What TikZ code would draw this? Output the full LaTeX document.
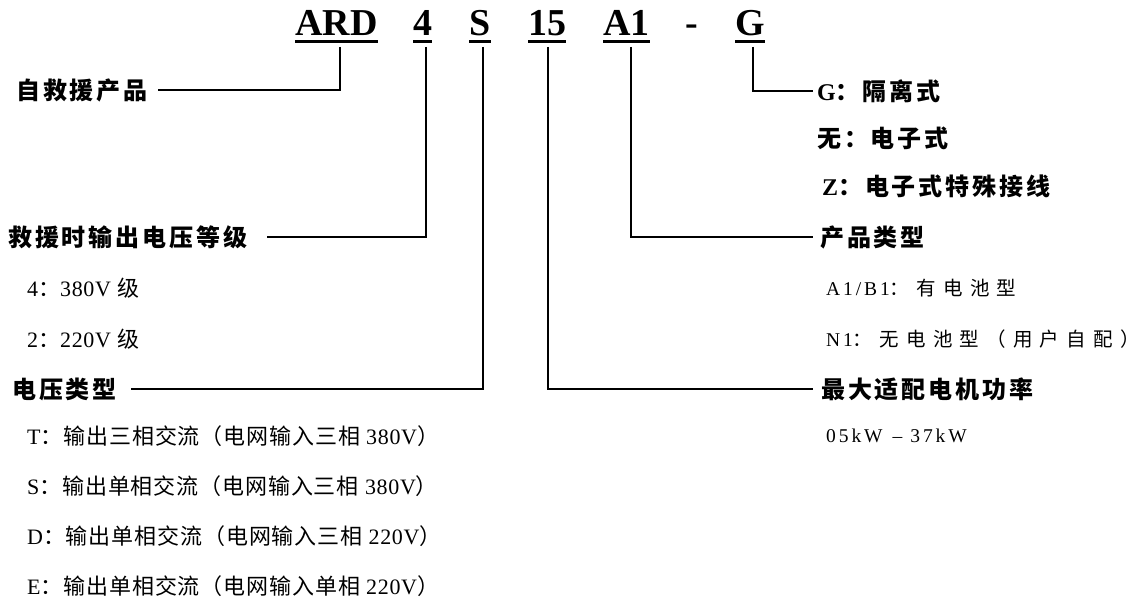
\documentclass[tikz,border=0pt]{standalone}
\usepackage{fontspec}
\setmainfont{Liberation Serif}
\newfontfamily\cjkhd{Noto Sans CJK SC}[LetterSpace=12]
\newfontfamily\cjklt{Noto Sans CJK SC}[LetterSpace=4]
\newfontfamily\cjkrt{Noto Sans CJK SC}[LetterSpace=37]
\newfontfamily\lathd{Liberation Serif}[LetterSpace=4]
\newfontfamily\latlt{Liberation Serif}[LetterSpace=3]
\newfontfamily\latrt{Liberation Serif}[LetterSpace=15]
\newcommand\HLat[1]{{\lathd #1}}
\newcommand\LLat[1]{{\latlt #1}}
\newcommand\RLat[1]{{\latrt #1}}
\usetikzlibrary{calc}
\tikzset{
  codebox/.style={anchor=base west, inner sep=0pt, font=\fontsize{38}{38}\selectfont\bfseries},
  hd/.style={anchor=west, inner sep=0pt, font=\fontsize{24}{24}\selectfont\cjkhd\bfseries},
  lt/.style={anchor=west, inner sep=0pt, font=\fontsize{22}{22}\selectfont\cjklt},
  rt/.style={anchor=west, inner sep=0pt, font=\fontsize{19.5}{19.5}\selectfont\cjkrt},
  ul/.style={line width=3.3pt},
  conn/.style={line width=2pt},
}
\begin{document}
\begin{tikzpicture}[x=1pt,y=-1pt]
\fill[white] (0,0) rectangle (1145,601);
\useasboundingbox (0,0) rectangle (1145,601);
% code
\node[codebox] (ard) at (295,36) {ARD};
\node[codebox] (n4) at (413,36) {4};
\node[codebox] (ns) at (469,36) {S};
\node[codebox] (n15) at (528,36) {15};
\node[codebox] (na1) at (603,36) {A1};
\node[codebox] (dash) at (685,36) {-};
\node[codebox] (ng) at (735,36) {G};
\foreach \n in {ard,n4,ns,n15,na1,ng}
  \draw[ul] ($(\n.base west)+(0,5.5)$) -- ($(\n.base east)+(0,5.5)$);
% connector tops
\coordinate (cARD) at (340,47);
\coordinate (c4) at (426,47);
\coordinate (cS) at (482.5,47);
\coordinate (c15) at (548,47);
\coordinate (cA1) at (631,47);
\coordinate (cG) at (753,47);
% left labels
\node[hd] (lard) at (16,90) {自救援产品};
\node[hd] (lvolt) at (8,237) {救援时输出电压等级};
\node[lt] (l4) at (27,288) {\LLat{4}：\LLat{380V }级};
\node[lt] (l2) at (27,339) {\LLat{2}：\LLat{220V }级};
\node[hd] (ltype) at (12,389) {电压类型};
\node[lt] (lT) at (27,436) {\LLat{T}：输出三相交流（电网输入三相\LLat{ 380V}）};
\node[lt] (lS) at (27,486) {\LLat{S}：输出单相交流（电网输入三相\LLat{ 380V}）};
\node[lt] (lD) at (27,536) {\LLat{D}：输出单相交流（电网输入三相\LLat{ 220V}）};
\node[lt] (lE) at (27,586) {\LLat{E}：输出单相交流（电网输入单相\LLat{ 220V}）};
% right labels
\node[hd] (lg) at (817,91) {\HLat{G}：隔离式};
\node[hd] (lwu) at (817,138) {无：电子式};
\node[hd] (lz) at (822,186) {\HLat{Z}：电子式特殊接线};
\node[hd] (lprod) at (820,237) {产品类型};
\node[rt] (la1) at (826,288) {\RLat{A1/B1}：有电池型};
\node[rt] (ln1) at (826,339) {\RLat{N1}：无电池型（用户自配）};
\node[hd] (lmax) at (821,389) {最大适配电机功率};
\node[rt] (lkw) at (826,436) {\RLat{05kW}\hspace{10pt}\RLat{–}\hspace{8pt}\RLat{37kW}};
% connectors
\draw[conn] (cARD) |- ([xshift=10pt]lard.east);
\draw[conn] (c4) |- ([xshift=20pt]lvolt.east);
\draw[conn] (cS) |- ([xshift=14pt]ltype.east);
\draw[conn] (c15) |- ([xshift=-8pt]lmax.west);
\draw[conn] (cA1) |- ([xshift=-7pt]lprod.west);
\draw[conn] (cG) |- ([xshift=-4pt]lg.west);
\end{tikzpicture}
\end{document}
